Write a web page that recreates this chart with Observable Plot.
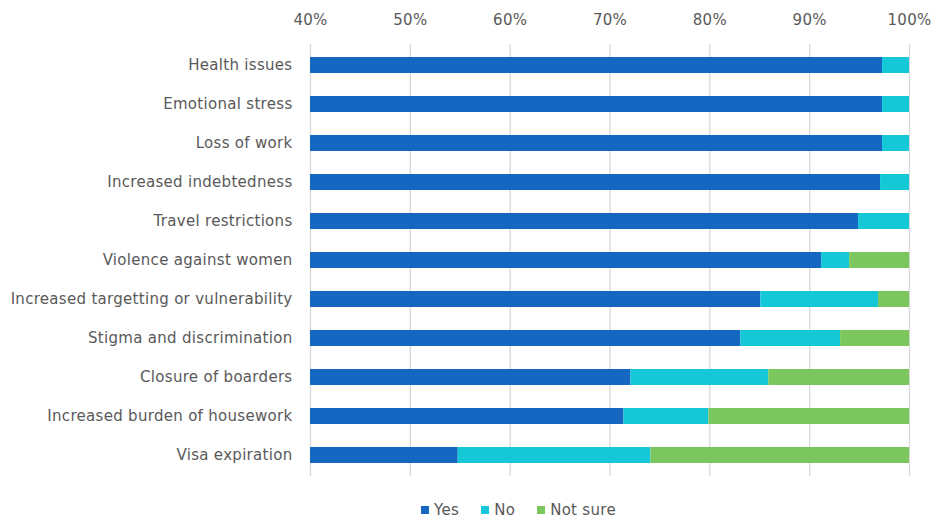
<!DOCTYPE html>
<html><head><meta charset="utf-8">
<script src="https://cdn.jsdelivr.net/npm/d3@7"></script>
<script src="https://cdn.jsdelivr.net/npm/@observablehq/plot@0.6"></script>
<style>
body{margin:0;background:#fff;font-family:"DejaVu Sans", sans-serif;}
#chart svg{display:block;}
#legend{position:relative;height:26px;font-size:15px;letter-spacing:0.3px;color:#595959;}
#legend .inner{position:absolute;left:421px;top:9px;display:flex;align-items:center;gap:22px;}
#legend .item{display:flex;align-items:center;gap:5px;}
#legend .sw{width:8px;height:8px;display:inline-block;}
</style></head><body>
<div id="chart"></div>
<div id="legend"><div class="inner"></div></div>
<script>
const categories = ["Health issues","Emotional stress","Loss of work","Increased indebtedness","Travel restrictions","Violence against women","Increased targetting or vulnerability","Stigma and discrimination","Closure of boarders","Increased burden of housework","Visa expiration"];
const yes     = [97.3, 97.3, 97.3, 97.1, 94.9, 91.2, 85.1, 83.1, 72.1, 71.4, 54.8];
const no      = [2.7, 2.7, 2.7, 2.9, 5.1, 2.8, 11.8, 10.0, 13.8, 8.5, 19.3];
const notSure = [0, 0, 0, 0, 0, 6.0, 3.1, 6.9, 14.1, 20.1, 25.9];
const responses = ["Yes","No","Not sure"];
const colors = ["#1667c2","#14c8d7","#7bc75d"];
const xTicks = [40,50,60,70,80,90,100];

const series = [yes, no, notSure];
const data = categories.flatMap((c,i)=>responses.map((r,k)=>({category:c, response:r, value:series[k][i]})));

const plot = Plot.plot({
  width:937, height:492,
  marginLeft:310, marginRight:28, marginTop:44, marginBottom:16,
  style:{fontSize:"15px", letterSpacing:"0.3px", fontFamily:"'DejaVu Sans', sans-serif", color:"#595959", background:"#fff"},
  x:{domain:[40,100]},
  y:{domain:categories, paddingInner:0.6, paddingOuter:0.3},
  color:{domain:responses, range:colors},
  marks:[
    Plot.gridX(xTicks, {stroke:"#d9d9d9", strokeOpacity:1, strokeWidth:1.3}),
    Plot.barX(data, Plot.stackX({x:"value", y:"category", fill:"response", order:responses, clip:true})),
    Plot.axisX(xTicks, {anchor:"top", tickSize:0, tickPadding:20, label:null, tickFormat:d=>d+"%"}),
    Plot.axisY({tickSize:0, tickPadding:18, label:null})
  ]
});
document.getElementById("chart").appendChild(plot);

const legend = document.querySelector("#legend .inner");
responses.forEach((r,k)=>{
  const it = document.createElement("span"); it.className="item";
  const sw = document.createElement("span"); sw.className="sw"; sw.style.background=colors[k];
  const tx = document.createElement("span"); tx.textContent=r;
  it.appendChild(sw); it.appendChild(tx); legend.appendChild(it);
});
</script>
</body></html>
